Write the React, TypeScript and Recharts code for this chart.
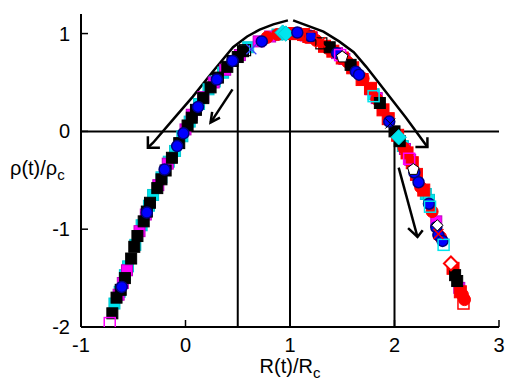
import React from 'react';
import { ScatterChart, Scatter, XAxis, YAxis, ReferenceLine } from 'recharts';

// ---- axis ticks ----
const xTicks = [-1, 0, 1, 2, 3];
const yTicks = [-2, -1, 0, 1];

// ---- data series ----
const cyanSquares = [
  { x: -0.68, y: -1.76 }, { x: -0.63, y: -1.64 }, { x: -0.58, y: -1.47 }, { x: -0.55, y: -1.38 },
  { x: -0.48, y: -1.16 }, { x: -0.42, y: -0.96 }, { x: -0.35, y: -0.76 }, { x: -0.31, y: -0.65 },
  { x: -0.23, y: -0.47 }, { x: -0.16, y: -0.31 }, { x: -0.10, y: -0.20 }, { x: -0.03, y: -0.05 },
  { x: 0.04, y: 0.10 }, { x: 0.13, y: 0.28 }, { x: 0.22, y: 0.43 }, { x: 0.28, y: 0.51 },
  { x: 0.36, y: 0.60 }, { x: 0.60, y: 0.86 }, { x: 0.88, y: 0.99 }, { x: 1.80, y: 0.38 },
  { x: 2.08, y: -0.15 }, { x: 2.30, y: -0.64 }, { x: 2.33, y: -0.70 },
];
const magentaSquares = [
  { x: -0.64, y: -1.67 }, { x: -0.60, y: -1.55 }, { x: -0.56, y: -1.42 }, { x: -0.44, y: -1.02 },
  { x: -0.38, y: -0.85 }, { x: -0.26, y: -0.55 }, { x: -0.17, y: -0.33 }, { x: 0.00, y: 0.02 },
  { x: 0.06, y: 0.17 }, { x: 0.17, y: 0.35 }, { x: 0.27, y: 0.50 }, { x: 0.38, y: 0.63 },
  { x: 0.52, y: 0.78 }, { x: 0.70, y: 0.92 }, { x: 0.81, y: 0.97 }, { x: 1.15, y: 0.98 },
  { x: 1.21, y: 0.96 }, { x: 1.45, y: 0.80 }, { x: 1.52, y: 0.74 }, { x: 1.77, y: 0.43 },
  { x: 1.83, y: 0.34 }, { x: 2.10, y: -0.18 }, { x: 2.15, y: -0.29 }, { x: 2.40, y: -0.92 },
  { x: 2.62, y: -1.60 },
];
const blackSquares = [
  { x: -0.70, y: -1.86 }, { x: -0.66, y: -1.70 }, { x: -0.62, y: -1.62 }, { x: -0.58, y: -1.50 },
  { x: -0.52, y: -1.30 }, { x: -0.49, y: -1.18 }, { x: -0.46, y: -1.07 }, { x: -0.40, y: -0.92 },
  { x: -0.37, y: -0.82 }, { x: -0.34, y: -0.73 }, { x: -0.27, y: -0.58 }, { x: -0.23, y: -0.49 },
  { x: -0.19, y: -0.40 }, { x: -0.13, y: -0.27 }, { x: -0.06, y: -0.12 }, { x: 0.02, y: 0.06 },
  { x: 0.06, y: 0.14 }, { x: 0.10, y: 0.22 }, { x: 0.17, y: 0.34 }, { x: 0.24, y: 0.45 },
  { x: 0.31, y: 0.55 }, { x: 0.40, y: 0.66 }, { x: 0.45, y: 0.72 }, { x: 0.50, y: 0.76 },
  { x: 0.55, y: 0.82 }, { x: 1.38, y: 0.86 }, { x: 1.58, y: 0.68 }, { x: 1.86, y: 0.29 },
  { x: 2.00, y: 0.00 }, { x: 2.05, y: -0.10 }, { x: 2.58, y: -1.47 }, { x: 2.60, y: -1.53 },
];
const cyanDiamonds = [
  { x: 0.93, y: 1.01 }, { x: 0.96, y: 1.00 }, { x: 2.04, y: -0.06 },
];
const blueCircles = [
  { x: -0.61, y: -1.59 }, { x: -0.37, y: -0.83 }, { x: -0.20, y: -0.39 }, { x: -0.08, y: -0.15 },
  { x: -0.02, y: -0.02 }, { x: 0.12, y: 0.25 }, { x: 0.30, y: 0.53 }, { x: 0.45, y: 0.72 },
  { x: 0.73, y: 0.92 }, { x: 1.07, y: 1.01 }, { x: 1.20, y: 0.97 }, { x: 1.45, y: 0.80 },
  { x: 1.63, y: 0.61 }, { x: 1.66, y: 0.58 }, { x: 1.95, y: 0.10 }, { x: 2.19, y: -0.42 },
  { x: 2.23, y: -0.52 }, { x: 2.33, y: -0.74 }, { x: 2.40, y: -0.98 }, { x: 2.42, y: -1.06 },
  { x: 2.46, y: -1.12 },
];
const redSquares = [
  { x: 1.00, y: 1.00 }, { x: 1.05, y: 1.00 }, { x: 1.13, y: 0.99 }, { x: 1.18, y: 0.97 },
  { x: 1.33, y: 0.87 }, { x: 1.41, y: 0.82 }, { x: 1.50, y: 0.75 }, { x: 1.60, y: 0.65 },
  { x: 1.69, y: 0.53 }, { x: 1.77, y: 0.44 }, { x: 1.89, y: 0.22 }, { x: 1.94, y: 0.13 },
  { x: 2.03, y: -0.04 }, { x: 2.12, y: -0.22 }, { x: 2.17, y: -0.32 }, { x: 2.21, y: -0.44 },
  { x: 2.28, y: -0.60 }, { x: 2.56, y: -1.40 }, { x: 2.63, y: -1.64 },
];
const redCircles = [
  { x: 0.78, y: 0.96 }, { x: 0.88, y: 0.99 }, { x: 1.06, y: 1.00 }, { x: 1.25, y: 0.93 },
  { x: 1.36, y: 0.85 }, { x: 1.55, y: 0.71 }, { x: 1.70, y: 0.54 }, { x: 1.83, y: 0.33 },
  { x: 2.09, y: -0.17 }, { x: 2.25, y: -0.57 }, { x: 2.36, y: -0.82 }, { x: 2.44, y: -1.08 },
  { x: 2.65, y: -1.67 }, { x: 2.67, y: -1.72 },
];
const openRedSquares = [{ x: 2.66, y: -1.76 }, { x: 1.20, y: 0.96 }];
const openCyanSquares = [{ x: 2.34, y: -0.77 }, { x: 2.47, y: -1.16 }, { x: 1.80, y: 0.36 }];
const openMagentaSquares = [{ x: -0.725, y: -1.96 }, { x: 2.14, y: -0.28 }, { x: 1.48, y: 0.78 }];
const openBlackSquares = [{ x: 0.57, y: 0.83 }, { x: 1.30, y: 0.90 }];
const whitePentagons = [{ x: 1.50, y: 0.76 }, { x: 2.18, y: -0.39 }];
const whiteDiamonds = [{ x: 2.41, y: -0.96 }];
const redOpenDiamonds = [{ x: 2.54, y: -1.35 }];
const blueCrosses = [{ x: 0.63, y: 0.84 }];
const redCrosses = [{ x: 1.29, y: 0.91 }, { x: 2.42, y: -1.05 }];
const blackCrosses = [{ x: 1.96, y: 0.08 }];

// ---- annotation lines ----
const roofLeft = [
  { x: -0.36, y: -0.167 }, { x: -0.31, y: -0.116 }, { x: -0.12, y: 0.12 }, { x: 0.07, y: 0.355 },
  { x: 0.26, y: 0.61 }, { x: 0.455, y: 0.86 }, { x: 0.59, y: 0.97 }, { x: 0.71, y: 1.04 },
  { x: 0.84, y: 1.094 }, { x: 0.98, y: 1.135 },
];
const roofLeftHead = [{ x: -0.36, y: -0.05 }, { x: -0.36, y: -0.167 }, { x: -0.245, y: -0.167 }];
const roofRight = [
  { x: 1.03, y: 1.135 }, { x: 1.32, y: 1.02 }, { x: 1.47, y: 0.92 }, { x: 1.61, y: 0.81 },
  { x: 1.73, y: 0.66 }, { x: 1.95, y: 0.36 }, { x: 2.11, y: 0.14 }, { x: 2.315, y: -0.16 },
];
const roofRightHead = [{ x: 2.315, y: -0.06 }, { x: 2.315, y: -0.16 }, { x: 2.2, y: -0.16 }];
const smallLeft = [{ x: 0.45, y: 0.43 }, { x: 0.24, y: 0.09 }];
const smallLeftHead = [{ x: 0.255, y: 0.2 }, { x: 0.24, y: 0.09 }, { x: 0.33, y: 0.14 }];
const smallRight = [{ x: 2.04, y: -0.37 }, { x: 2.22, y: -1.08 }];
const smallRightHead = [{ x: 2.13, y: -0.99 }, { x: 2.22, y: -1.08 }, { x: 2.27, y: -1.01 }];

const FONT = 'Liberation Sans, Arial, Helvetica, sans-serif';

type Kind = 'square' | 'circle' | 'diamond' | 'pentagon' | 'cross';
const mk = (kind: Kind, fill: string, stroke: string, s = 11, sw = 1) => (props: any) => {
  const { cx, cy } = props;
  if (cx == null || cy == null) return <g />;
  const h = s / 2;
  if (kind === 'square')
    return <rect x={cx - h} y={cy - h} width={s} height={s} fill={fill} stroke={stroke} strokeWidth={sw} />;
  if (kind === 'circle') return <circle cx={cx} cy={cy} r={h} fill={fill} stroke={stroke} strokeWidth={sw} />;
  if (kind === 'diamond') {
    const d = s * 0.7;
    return (
      <polygon
        points={`${cx},${cy - d} ${cx + d},${cy} ${cx},${cy + d} ${cx - d},${cy}`}
        fill={fill}
        stroke={stroke}
        strokeWidth={sw}
      />
    );
  }
  if (kind === 'pentagon') {
    const pts = [0, 1, 2, 3, 4]
      .map((i) => {
        const a = -Math.PI / 2 + (i * 2 * Math.PI) / 5;
        return `${cx + h * 1.2 * Math.cos(a)},${cy + h * 1.2 * Math.sin(a)}`;
      })
      .join(' ');
    return <polygon points={pts} fill={fill} stroke={stroke} strokeWidth={sw} />;
  }
  return (
    <g stroke={stroke} strokeWidth={sw}>
      <line x1={cx - h} y1={cy - h} x2={cx + h} y2={cy + h} />
      <line x1={cx - h} y1={cy + h} x2={cx + h} y2={cy - h} />
    </g>
  );
};

const noShape = () => <g />;

const BottomTick = (props: any) => {
  const { x, y, payload } = props;
  return (
    <g>
      <line x1={x} y1={y} x2={x} y2={y - 7} stroke="#000" strokeWidth={1.5} />
      <text x={x} y={y + 25} textAnchor="middle" fontSize={20} fontFamily={FONT} fill="#000">
        {String(payload.value)}
      </text>
    </g>
  );
};
const TopTick = (props: any) => {
  const { x, y } = props;
  return <line x1={x} y1={y} x2={x} y2={y + 7} stroke="#000" strokeWidth={1.5} />;
};
const LeftTick = (props: any) => {
  const { x, y, payload } = props;
  return (
    <g>
      <line x1={x} y1={y} x2={x + 7} y2={y} stroke="#000" strokeWidth={1.5} />
      <text x={x - 11} y={y + 7} textAnchor="end" fontSize={20} fontFamily={FONT} fill="#000">
        {String(payload.value)}
      </text>
    </g>
  );
};
const RightTick = (props: any) => {
  const { x, y } = props;
  return <line x1={x} y1={y} x2={x - 7} y2={y} stroke="#000" strokeWidth={1.5} />;
};

const XLabel = () => (
  <text x={290} y={373} textAnchor="middle" fontSize={20} fontFamily={FONT} fill="#000">
    R(t)/R
    <tspan fontSize={15} dy={5}>c</tspan>
  </text>
);
const YLabel = () => (
  <text x={10} y={175} textAnchor="start" fontSize={20} fontFamily={FONT} fill="#000">
    ρ(t)/ρ
    <tspan fontSize={15} dy={5}>c</tspan>
  </text>
);

const axisLine = { stroke: '#000', strokeWidth: 2 };
const lineStyle = { stroke: '#000', strokeWidth: 2.5 };

export default function App() {
  const arrowSeries = [roofLeft, roofLeftHead, roofRight, roofRightHead, smallLeft, smallLeftHead, smallRight, smallRightHead];
  return (
    <div style={{ position: 'absolute', left: 0, top: 0, width: 516, height: 388, background: '#fff' }}>
      <ScatterChart width={516} height={388} margin={{ top: 14, right: 17, bottom: 0, left: 0 }}>
        <XAxis
          xAxisId="b"
          dataKey="x"
          type="number"
          domain={[-1, 3]}
          ticks={xTicks}
          interval={0}
          allowDataOverflow
          tickSize={0}
          tickMargin={0}
          height={61}
          axisLine={axisLine}
          tickLine={false}
          tick={<BottomTick />}
          label={<XLabel />}
        />
        <XAxis
          xAxisId="t"
          orientation="top"
          dataKey="x"
          type="number"
          domain={[-1, 3]}
          ticks={xTicks}
          interval={0}
          allowDataOverflow
          tickSize={0}
          tickMargin={0}
          height={0}
          axisLine={axisLine}
          tickLine={false}
          tick={<TopTick />}
        />
        <YAxis
          yAxisId="l"
          dataKey="y"
          type="number"
          domain={[-2, 1.2]}
          ticks={yTicks}
          interval={0}
          allowDataOverflow
          tickSize={0}
          tickMargin={0}
          width={81}
          axisLine={axisLine}
          tickLine={false}
          tick={<LeftTick />}
          label={<YLabel />}
        />
        <YAxis
          yAxisId="r"
          orientation="right"
          dataKey="y"
          type="number"
          domain={[-2, 1.2]}
          ticks={yTicks}
          interval={0}
          allowDataOverflow
          tickSize={0}
          tickMargin={0}
          width={0}
          axisLine={axisLine}
          tickLine={false}
          tick={<RightTick />}
        />
        <Scatter xAxisId="t" yAxisId="r" data={[{ x: 1, y: 0 }]} shape={noShape} isAnimationActive={false} />

        <ReferenceLine xAxisId="b" yAxisId="l" y={0} stroke="#000" strokeWidth={2} />
        <ReferenceLine xAxisId="b" yAxisId="l" segment={[{ x: 1, y: -2 }, { x: 1, y: 1.05 }]} stroke="#000" strokeWidth={2} />
        <ReferenceLine xAxisId="b" yAxisId="l" segment={[{ x: 0.5, y: -2 }, { x: 0.5, y: 0.84 }]} stroke="#000" strokeWidth={2} />
        <ReferenceLine xAxisId="b" yAxisId="l" segment={[{ x: 2, y: -2 }, { x: 2, y: 0 }]} stroke="#000" strokeWidth={2} />

        {arrowSeries.map((d, i) => (
          <Scatter
            key={'a' + i}
            xAxisId="b"
            yAxisId="l"
            data={d}
            line={lineStyle}
            lineType="joint"
            shape={noShape}
            isAnimationActive={false}
          />
        ))}

        <Scatter xAxisId="b" yAxisId="l" data={cyanSquares} shape={mk('square', '#00e5ee', '#00c8d0', 11)} isAnimationActive={false} />
        <Scatter xAxisId="b" yAxisId="l" data={magentaSquares} shape={mk('square', '#ff00ff', '#c000c0', 11)} isAnimationActive={false} />
        <Scatter xAxisId="b" yAxisId="l" data={redSquares} shape={mk('square', '#ff0000', '#ff0000', 12)} isAnimationActive={false} />
        <Scatter xAxisId="b" yAxisId="l" data={redCircles} shape={mk('circle', '#ff0000', '#ff0000', 12)} isAnimationActive={false} />
        <Scatter xAxisId="b" yAxisId="l" data={blackSquares} shape={mk('square', '#000', '#000', 11)} isAnimationActive={false} />
        <Scatter xAxisId="b" yAxisId="l" data={cyanDiamonds} shape={mk('diamond', '#00e5ee', '#00c8d0', 11)} isAnimationActive={false} />
        <Scatter xAxisId="b" yAxisId="l" data={blueCircles} shape={mk('circle', '#0000ff', '#000080', 11, 1.5)} isAnimationActive={false} />
        <Scatter xAxisId="b" yAxisId="l" data={openRedSquares} shape={mk('square', 'none', '#ff0000', 11, 1.5)} isAnimationActive={false} />
        <Scatter xAxisId="b" yAxisId="l" data={openCyanSquares} shape={mk('square', 'none', '#00e5ee', 11, 1.5)} isAnimationActive={false} />
        <Scatter xAxisId="b" yAxisId="l" data={openMagentaSquares} shape={mk('square', 'none', '#ff00ff', 11, 1.5)} isAnimationActive={false} />
        <Scatter xAxisId="b" yAxisId="l" data={openBlackSquares} shape={mk('square', 'none', '#000', 11, 1.2)} isAnimationActive={false} />
        <Scatter xAxisId="b" yAxisId="l" data={whitePentagons} shape={mk('pentagon', '#fff', '#000', 10, 1)} isAnimationActive={false} />
        <Scatter xAxisId="b" yAxisId="l" data={whiteDiamonds} shape={mk('diamond', '#fff', '#000', 8, 1)} isAnimationActive={false} />
        <Scatter xAxisId="b" yAxisId="l" data={redOpenDiamonds} shape={mk('diamond', '#fff', '#ff0000', 10, 2)} isAnimationActive={false} />
        <Scatter xAxisId="b" yAxisId="l" data={blueCrosses} shape={mk('cross', 'none', '#4040ff', 10, 1.2)} isAnimationActive={false} />
        <Scatter xAxisId="b" yAxisId="l" data={redCrosses} shape={mk('cross', 'none', '#ff0000', 10, 1.5)} isAnimationActive={false} />
        <Scatter xAxisId="b" yAxisId="l" data={blackCrosses} shape={mk('cross', 'none', '#000', 10, 1)} isAnimationActive={false} />
      </ScatterChart>
    </div>
  );
}
